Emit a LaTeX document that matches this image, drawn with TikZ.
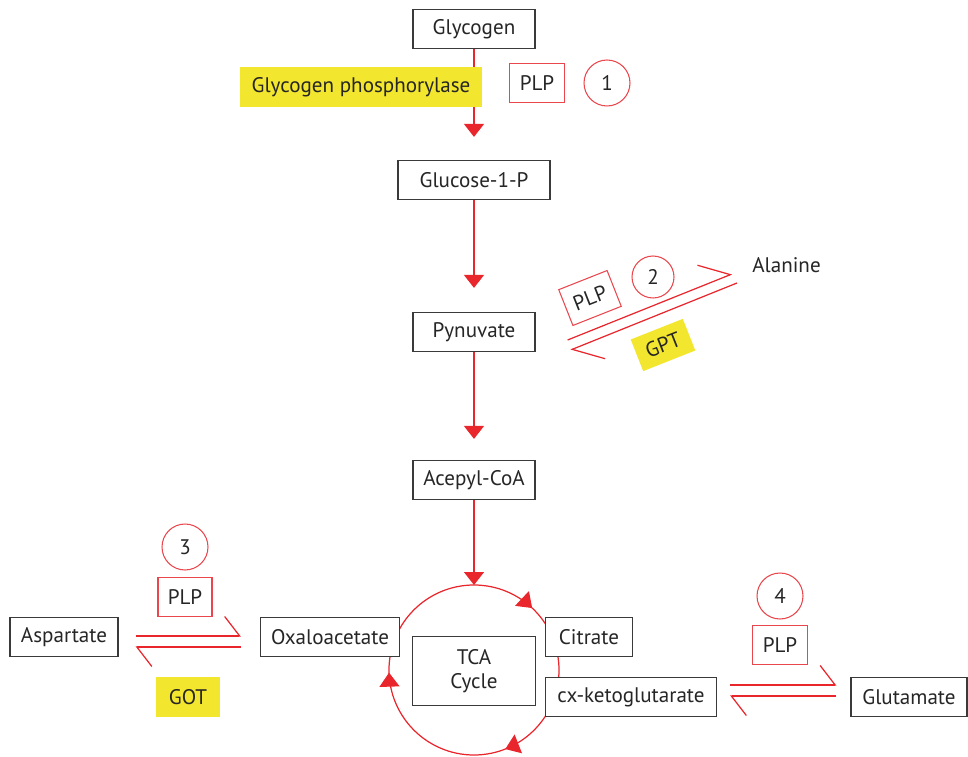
\documentclass[tikz,border=0pt]{standalone}
\usepackage{fontspec}
\setmainfont{PT Sans}
\usetikzlibrary{arrows.meta, positioning, decorations.markings, backgrounds}
\definecolor{pathred}{HTML}{E8262C}
\definecolor{plpred}{HTML}{E9474D}
\definecolor{enzyellow}{HTML}{F3E62E}
\definecolor{boxgray}{HTML}{3A3A3A}

\begin{document}
\begin{tikzpicture}[
    x=0.02cm, y=-0.02cm,
    font=\fontsize{12}{13.5}\selectfont,
    box/.style={
      draw=boxgray, line width=0.7pt, fill=white, text=black!85,
      minimum height=0.78cm, inner xsep=0.1cm, align=center
    },
    mainbox/.style={box, minimum width=2.44cm},
    cofac/.style={draw=plpred, line width=0.6pt, text=black!85,
      minimum width=1.1cm, minimum height=0.77cm, inner sep=2pt},
    stepnum/.style={circle, draw=plpred, line width=0.6pt, text=black!85,
      minimum size=0.92cm, inner sep=0pt},
    enzyme/.style={fill=enzyellow, text=black!85, minimum height=0.8cm, inner xsep=0.2cm},
    flow/.style={draw=pathred, line width=0.8pt, -{Triangle[width=0.4cm, length=0.26cm]}},
    harp/.style={draw=pathred, line width=0.7pt,
      -{Straight Barb[harpoon, length=0.3cm, width=0.78cm]}},
    slantharp/.style={draw=pathred, line width=0.7pt,
      -{Straight Barb[harpoon, length=0.54cm, width=0.84cm]}},
    cycle/.style={draw=pathred, line width=0.7pt,
      decoration={markings,
        mark=at position 0.19 with {\arrow{Triangle[width=0.4cm, length=0.28cm]}},
        mark=at position 0.495 with {\arrow{Triangle[width=0.4cm, length=0.28cm]}},
        mark=at position 0.87 with {\arrow{Triangle[width=0.4cm, length=0.28cm]}}},
      postaction=decorate}
  ]
    \useasboundingbox (0,0) rectangle (968,757);

    % main column
    \node[mainbox] (glyc) at (474,29)  {Glycogen};
    \node[mainbox, minimum width=3.04cm] (g1p) at (474,180) {Glucose-1-P};
    \node[mainbox] (pyr)  at (474,332) {Pynuvate};
    \node[mainbox] (acoa) at (474,480) {Acepyl-CoA};
    \node[anchor=west, inner sep=0pt, text=black!85] (ala) at (752,265) {Alanine};

    % TCA cycle
    \coordinate (cyc) at (474,670);
    \coordinate (cyctop) at (474,585);
    \node[box, minimum width=2.46cm, minimum height=1.38cm] (tca) at (474,671) {TCA\\Cycle};
    \node[box, minimum width=2.78cm] (oxa) at (330,637) {Oxaloacetate};
    \node[box, minimum width=1.74cm] (cit) at (589,637) {Citrate};
    \node[box, minimum width=3.42cm] (akg) at (631,697) {cx-ketoglutarate};
    \node[box, minimum width=2.16cm] (asp) at (64,637)  {Aspartate};
    \node[box, minimum width=2.32cm] (glu) at (909,697) {Glutamate};
    \begin{scope}[on background layer]
      \draw[cycle] (cyc) circle[radius=85];
    \end{scope}

    \draw[flow, shorten >=0.46cm] (glyc) -- (g1p);
    \draw[flow, shorten >=0.48cm] (g1p) -- (pyr);
    \draw[flow, shorten >=0.42cm] (pyr) -- (acoa);
    \draw[flow] (acoa) -- (cyctop);

    % step 1
    \node[enzyme, minimum width=4.86cm] (gph) at (361,87) {Glycogen phosphorylase};
    \node[cofac] (plp1) at (537,83) {PLP};
    \node[stepnum] (n1) at (607,83) {1};

    % step 2
    \draw[slantharp] ([shift={(32,8)}]pyr.east) -- ([shift={(-20,9)}]ala.west);
    \draw[slantharp] ([shift={(-15,18)}]ala.west) -- ([shift={(35,18)}]pyr.east);
    \node[cofac, rotate=21.6, minimum width=1.04cm] (plp2) at (590,298) {PLP};
    \node[stepnum, minimum size=0.84cm] (n2) at (653,277) {2};
    \node[enzyme, rotate=21.6, minimum width=1.04cm, minimum height=0.68cm] (gpt) at (663,345) {GPT};

    % step 3
    \draw[harp] ([shift={(17,-1)}]asp.east) -- ([shift={(-19,-1)}]oxa.west);
    \draw[harp] ([shift={(-19,10)}]oxa.west) -- ([shift={(17,10)}]asp.east);
    \node[stepnum] (n3) at (185,547) {3};
    \node[cofac, minimum width=1.08cm] (plp3) at (185,597) {PLP};
    \node[enzyme, minimum width=1.3cm] (got) at (188,697) {GOT};

    % step 4
    \draw[harp] ([shift={(13,-12)}]akg.east) -- ([shift={(-14,-12)}]glu.west);
    \draw[harp] ([shift={(-14,-1)}]glu.west) -- ([shift={(13,-1)}]akg.east);
    \node[stepnum] (n4) at (780,596) {4};
    \node[cofac] (plp4) at (780,645) {PLP};
\end{tikzpicture}
\end{document}
